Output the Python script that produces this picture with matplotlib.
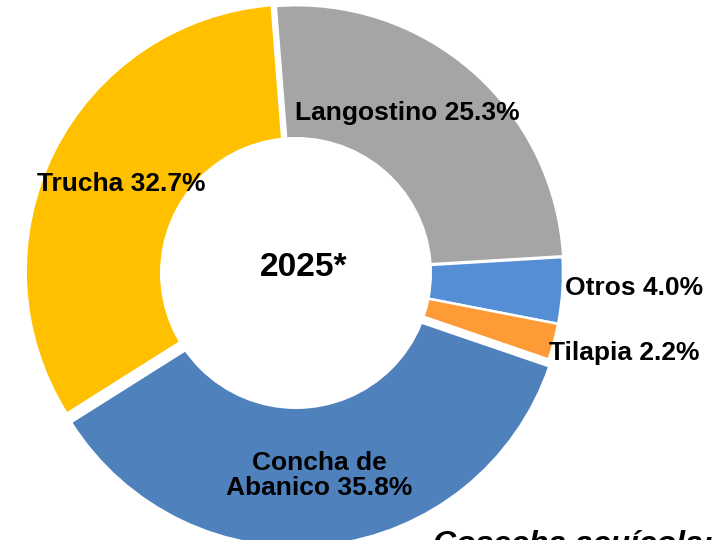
import matplotlib
matplotlib.use("Agg")
import matplotlib.pyplot as plt
from matplotlib.patches import Circle

plt.rcParams['font.family'] = ['Liberation Sans', 'DejaVu Sans']

# Data (clockwise order starting near 12 o'clock)
categories = ["Langostino", "Otros", "Tilapia", "Concha de\nAbanico", "Trucha"]
values = [25.3, 4.0, 2.2, 35.8, 32.7]
colors = ["#A5A5A5", "#558ED5", "#FF9B37", "#4F81BD", "#FFC000"]
center_label = "2025*"
footer_label = "Cosecha acuícola:"

# Layout
explode = [0.004, 0.0, 0.0, 0.026, 0.014]
W, H, DPI = 718, 540, 100
cx, cy, R = 296, 273, 267


def d(px, py):
    return ((px - cx) / R, (cy - py) / R)


label_pos = [d(407, 113), d(634, 288), d(624.5, 353), d(319.5, 475.5), d(121, 184)]

fig = plt.figure(figsize=(W / DPI, H / DPI), dpi=DPI)
ax = fig.add_axes([0, 0, 1, 1])

wedges, _ = ax.pie(values, colors=colors, startangle=94.5, counterclock=False,
                   explode=explode, radius=1.0, frame=True,
                   wedgeprops=dict(edgecolor='white', linewidth=1.8))
ax.set_xlim(-cx / R, (W - cx) / R)
ax.set_ylim(-(H - cy) / R, cy / R)
ax.set_aspect('equal')
ax.set_axis_off()

ax.add_patch(Circle((0, 0), 136 / R, facecolor='white', edgecolor='none', zorder=3))

for name, v, (x, y) in zip(categories, values, label_pos):
    ax.text(x, y, f"{name} {v:.1f}%", ha='center', va='center', fontsize=19,
            fontweight='bold', color='black', linespacing=1.1, zorder=4)

x0, y0 = d(303.5, 268)
ax.text(x0, y0, center_label, ha='center', va='center', fontsize=24,
        fontweight='bold', color='black', zorder=4)

x1, y1 = d(433, 553)
ax.text(x1, y1, footer_label, ha='left', va='baseline', fontsize=23,
        fontweight='bold', fontstyle='italic', color='black', zorder=4)

fig.savefig("out.png", dpi=DPI)
